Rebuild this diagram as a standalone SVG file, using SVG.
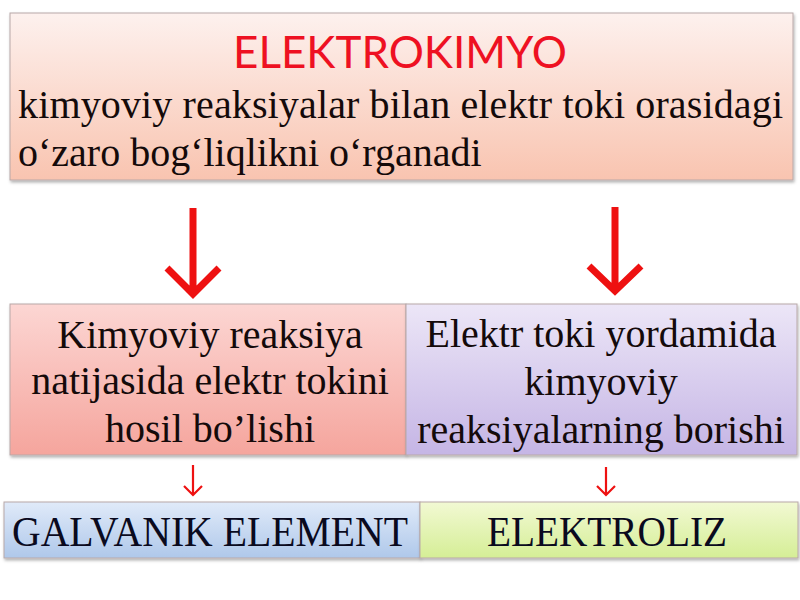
<svg xmlns="http://www.w3.org/2000/svg" width="800" height="600" viewBox="0 0 800 600">
<defs>
<linearGradient id="gTop" x1="0" y1="0" x2="0" y2="1"><stop offset="0" stop-color="#fdf1ee"/><stop offset="1" stop-color="#f9c4b0"/></linearGradient>
<linearGradient id="gPink" x1="0" y1="0" x2="0" y2="1"><stop offset="0" stop-color="#fcd6d3"/><stop offset="1" stop-color="#f5a59d"/></linearGradient>
<linearGradient id="gLav" x1="0" y1="0" x2="0" y2="1"><stop offset="0" stop-color="#ece6f7"/><stop offset="1" stop-color="#c5b5e5"/></linearGradient>
<linearGradient id="gBlue" x1="0" y1="0" x2="0" y2="1"><stop offset="0" stop-color="#e0eaf9"/><stop offset="1" stop-color="#afc8ea"/></linearGradient>
<linearGradient id="gLime" x1="0" y1="0" x2="0" y2="1"><stop offset="0" stop-color="#f2f9d3"/><stop offset="1" stop-color="#d5ee96"/></linearGradient>
<filter id="sh" x="-5%" y="-5%" width="110%" height="120%"><feDropShadow dx="1" dy="2" stdDeviation="1.5" flood-color="#000" flood-opacity="0.3"/></filter>
</defs>
<style>
.box{stroke:#b8a8a8;stroke-width:1;filter:url(#sh)}
.body{font-family:"Liberation Serif",serif;font-size:40px;fill:#140a0a}
.mid{font-family:"Liberation Serif",serif;font-size:40px;fill:#140a0a;text-anchor:middle}
.bot{font-family:"Liberation Serif",serif;font-size:42px;fill:#0a0a1e;text-anchor:middle}
.ttl{font-family:Lato,"Liberation Sans",sans-serif;font-size:45px;fill:#ee1122;text-anchor:middle}
.arr{stroke:#ee1111;fill:none}
</style>
<rect width="800" height="600" fill="#ffffff"/>
<g id="top">
<rect class="box" x="10" y="13" width="783" height="167" fill="url(#gTop)"/>
<text class="ttl" x="400" y="68" textLength="334" lengthAdjust="spacingAndGlyphs">ELEKTROKIMYO</text>
<text class="body" x="18" y="118" textLength="765" lengthAdjust="spacing">kimyoviy reaksiyalar bilan elektr toki orasidagi</text>
<text class="body" x="18" y="166">o‘zaro bog‘liqlikni o‘rganadi</text>
</g>
<g id="left-mid">
<rect class="box" x="10" y="304" width="396" height="151" fill="url(#gPink)"/>
<text class="mid" x="210" y="348">Kimyoviy reaksiya</text>
<text class="mid" x="210" y="394">natijasida elektr tokini</text>
<text class="mid" x="210" y="442">hosil bo’lishi</text>
</g>
<g id="right-mid">
<rect class="box" x="406" y="304" width="391" height="151" fill="url(#gLav)"/>
<text class="mid" x="601" y="347">Elektr toki yordamida</text>
<text class="mid" x="601" y="395">kimyoviy</text>
<text class="mid" x="601" y="443">reaksiyalarning borishi</text>
</g>
<g id="galvanik">
<rect class="box" x="4" y="502" width="416" height="56" fill="url(#gBlue)"/>
<text class="bot" x="210" y="546" textLength="396" lengthAdjust="spacingAndGlyphs">GALVANIK ELEMENT</text>
</g>
<g id="elektroliz">
<rect class="box" x="420" y="502" width="378" height="56" fill="url(#gLime)"/>
<text class="bot" x="607" y="546" textLength="240" lengthAdjust="spacingAndGlyphs">ELEKTROLIZ</text>
</g>
<g id="connectors">
<path class="arr" stroke-width="7" d="M193 208 V294 M167 268 L193 294 L219 268"/>
<path class="arr" stroke-width="7" d="M615 207 V291 M589 266 L615 291 L641 266"/>
<path class="arr" stroke-width="2.2" d="M193 465 V494 M184 486 L193 495 L202 486"/>
<path class="arr" stroke-width="2.2" d="M606 467 V494 M597 486 L606 495 L615 486"/>
</g>
</svg>
